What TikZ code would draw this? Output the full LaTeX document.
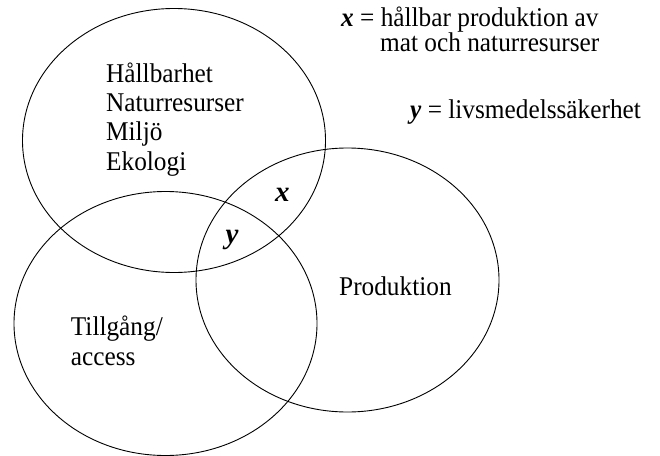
\documentclass[tikz,border=0pt]{standalone}
\usepackage{fontspec}
\setmainfont{Liberation Serif}
\usetikzlibrary{shapes.geometric}
\newcommand\vst[1]{\scalebox{1}[1.07]{#1}}
\begin{document}
\begin{tikzpicture}[x=1pt,y=-1pt,
  venn/.style={draw=black, line width=0.9pt, ellipse, inner sep=0pt,
    minimum width=303pt, minimum height=264pt},
  lbl/.style={anchor=base west, inner sep=0pt, align=left,
    font=\fontsize{25.3}{29.3}\selectfont},
  var/.style={anchor=base west, inner sep=0pt, font=\fontsize{29}{30}\selectfont\bfseries\itshape}]
\useasboundingbox (0,0) rectangle (660,455);
\node[venn] (top) at (174,140.5) {};
\node[venn] (left) at (165.5,323.5) {};
\node[venn] (right) at (347.5,280) {};
\node[lbl] (hall) at (106,170) {\vst{Hållbarhet}\\\vst{Naturresurser}\\\vst{Miljö}\\\vst{Ekologi}};
\node[lbl] (till) at (70.7,365) {\vst{Tillgång/}\\\vst{access}};
\node[lbl] (prod) at (339,295.5) {\vst{Produktion}};
\node[var] (xin) at (275,201) {x};
\node[var] (yin) at (225.5,243) {y};
\node[lbl] (legx) at (341,26.7) {\vst{\textbf{\textit{x}} = hållbar produktion av}};
\node[lbl] (legx2) at (380,51.7) {\vst{mat och naturresurser}};
\node[lbl] (legy) at (410,118) {\vst{\textbf{\textit{y}} = livsmedelssäkerhet}};
\end{tikzpicture}
\end{document}
